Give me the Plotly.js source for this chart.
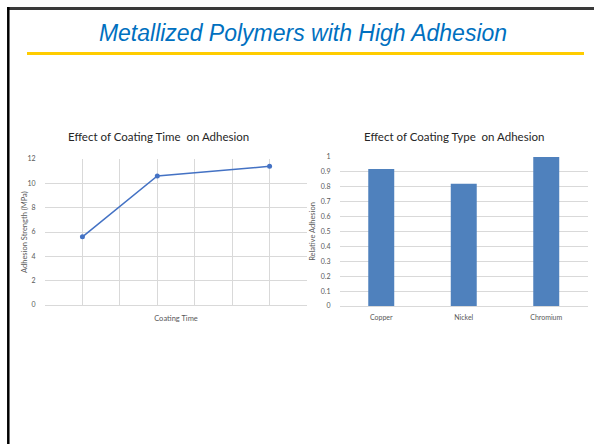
<!DOCTYPE html>
<html>
<head>
<meta charset="utf-8">
<script src="https://cdn.plot.ly/plotly-3.0.1.min.js"></script>
<style>html,body{margin:0;padding:0;background:#fff;}#chart{width:594px;height:444px;}</style>
</head>
<body>
<div id="chart"></div>
<script>
// Data
const slideTitle = "Metallized Polymers with High Adhesion";
const timeTitle = "Effect of Coating Time  on Adhesion";
const typeTitle = "Effect of Coating Type  on Adhesion";
const timeAxisTitle = "Coating Time";
const strengthAxisTitle = "Adhesion Strength (MPa)";
const relativeAxisTitle = "Relative Adhesion";
const coatingTime = [1, 3, 6];
const adhesionStrength = [5.6, 10.6, 11.4];
const coatingTypes = ["Copper", "Nickel", "Chromium"];
const relativeAdhesion = [0.92, 0.82, 1.0];

const W = 594, H = 444;
const px = v => v / W;
const py = v => 1 - v / H;

const tickFont = {family: "Lato, 'Liberation Sans', sans-serif", size: 7, color: "#595959"};
const axTitleFont = {family: "Lato, 'Liberation Sans', sans-serif", size: 7.5, color: "#595959"};
const titleFont = {family: "Lato, 'Liberation Sans', sans-serif", size: 11.5, color: "#262626"};
const grid = "#d9d9d9";

const traces = [
  {
    type: "scatter", mode: "lines+markers",
    x: coatingTime, y: adhesionStrength,
    xaxis: "x", yaxis: "y",
    line: {color: "#4472C4", width: 1.5},
    marker: {color: "#4472C4", size: 5},
    hoverinfo: "skip", showlegend: false
  },
  {
    type: "bar",
    x: coatingTypes, y: relativeAdhesion,
    xaxis: "x2", yaxis: "y2",
    marker: {color: "#4F81BD"},
    width: 0.315,
    hoverinfo: "skip", showlegend: false
  }
];

const layout = {
  width: W, height: H,
  margin: {l: 0, r: 0, t: 0, b: 0},
  paper_bgcolor: "#fff", plot_bgcolor: "rgba(0,0,0,0)",
  showlegend: false,
  title: {
    text: slideTitle,
    font: {family: "'Liberation Sans', Arial, sans-serif", size: 23, color: "#0070C0", style: "italic"},
    x: px(303), xanchor: "center",
    y: py(33), yanchor: "middle"
  },
  xaxis: {
    domain: [px(45), px(307)], range: [0, 7], dtick: 1, tick0: 0,
    showticklabels: false, showgrid: true, gridcolor: grid, gridwidth: 1,
    zeroline: false, showline: false, fixedrange: true,
    title: {text: timeAxisTitle, font: axTitleFont, standoff: 10}
  },
  yaxis: {
    domain: [py(305), py(159)], range: [0, 12], dtick: 2,
    showgrid: true, gridcolor: grid, zeroline: true, zerolinecolor: grid, zerolinewidth: 1,
    ticks: "outside", ticklen: 7, tickcolor: "rgba(0,0,0,0)",
    tickfont: tickFont, fixedrange: true
  },
  xaxis2: {
    domain: [px(340), px(587.5)], anchor: "y2",
    tickfont: tickFont, showgrid: false, showline: false, fixedrange: true,
    ticks: "outside", ticklen: 5, tickcolor: "rgba(0,0,0,0)"
  },
  yaxis2: {
    domain: [py(306), py(157)], range: [0, 1], dtick: 0.1, anchor: "x2",
    showgrid: true, gridcolor: grid, zeroline: true, zerolinecolor: grid, zerolinewidth: 1,
    ticks: "outside", ticklen: 7, tickcolor: "rgba(0,0,0,0)",
    tickfont: tickFont, fixedrange: true,
    title: {text: relativeAxisTitle, font: axTitleFont}
  },
  bargap: 0.685,
  annotations: [
    {text: timeTitle, xref: "paper", yref: "paper", x: px(158), y: py(136), xanchor: "center", yanchor: "middle", showarrow: false, font: titleFont},
    {text: typeTitle, xref: "paper", yref: "paper", x: px(454), y: py(136), xanchor: "center", yanchor: "middle", showarrow: false, font: titleFont},
    {text: strengthAxisTitle, xref: "paper", yref: "paper", x: px(24), y: py(232), xanchor: "center", yanchor: "middle", textangle: -90, showarrow: false, font: axTitleFont}
  ],
  shapes: [
    {type: "line", xref: "paper", yref: "paper", x0: px(7), x1: 1, y0: py(8.5), y1: py(8.5), line: {color: "#3a3a3a", width: 3}},
    {type: "line", xref: "paper", yref: "paper", x0: px(8.3), x1: px(8.3), y0: py(7), y1: 0, line: {color: "#000", width: 2.5}},
    {type: "line", xref: "paper", yref: "paper", x0: px(27), x1: px(584), y0: py(53.5), y1: py(53.5), line: {color: "#FFCC00", width: 3}}
  ]
};

Plotly.newPlot("chart", traces, layout, {displayModeBar: false, staticPlot: true});
</script>
</body>
</html>
